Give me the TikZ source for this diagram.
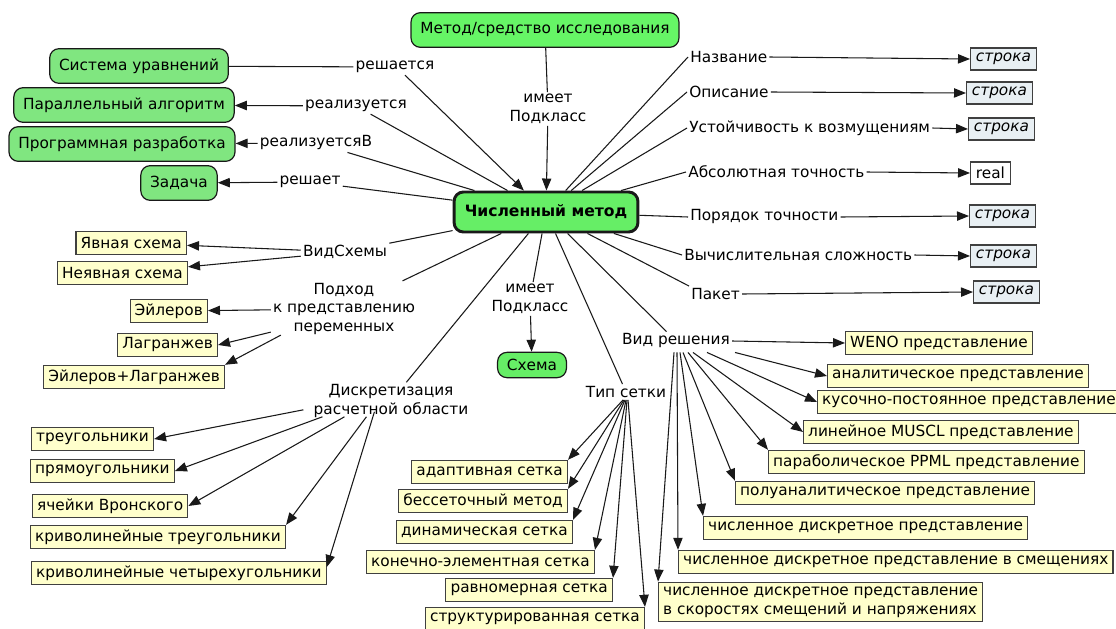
\documentclass[tikz,border=0pt]{standalone}
\usepackage{fontspec}
\setmainfont{DejaVu Sans}
\usetikzlibrary{arrows.meta,calc}
\definecolor{grTop}{RGB}{102,245,102}
\definecolor{grL}{RGB}{128,230,128}
\definecolor{grC}{RGB}{102,238,102}
\definecolor{yel}{RGB}{255,255,204}
\definecolor{strk}{RGB}{232,239,243}
\definecolor{ln}{RGB}{25,25,25}
\tikzset{
  lab/.style={inner sep=1.5pt, align=center},
  grbox/.style={draw=ln, fill=grL, rounded corners=7pt, line width=0.9pt, inner xsep=7pt, minimum height=26pt},
  cmbox/.style={draw=ln, fill=grC, rounded corners=7pt, line width=2.2pt, inner xsep=8pt, minimum height=30pt, font=\fontsize{11.7}{14}\selectfont\bfseries},
  ybox/.style={draw=black!75, fill=yel, line width=0.8pt, inner xsep=3.5pt, inner ysep=2pt, minimum height=17.5pt, align=left},
  sbox/.style={draw=black!75, fill=strk, line width=0.8pt, inner xsep=4pt, inner ysep=2pt, minimum height=16.5pt, font=\fontsize{11.5}{14}\selectfont\itshape},
  conn/.style={line width=0.8pt, draw=ln},
  arr/.style={conn, -{Triangle[length=9pt,width=7pt]}}
}
\begin{document}
\begin{tikzpicture}[x=0.75pt,y=-0.75pt, font=\fontsize{11.5}{14}\selectfont]
\useasboundingbox (0,0) rectangle (1116,628);

% green boxes
\node[grbox, fill=grTop] (mt) at (545,30) {Метод/средство исследования};
\node[grbox] (su) at (139,66) {Система уравнений};
\node[grbox] (pa) at (124,105) {Параллельный алгоритм};
\node[grbox] (pr) at (122,144) {Программная разработка};
\node[grbox] (zd) at (179,183) {Задача};
\node[cmbox] (cm) at (546,212) {Численный метод};
\node[grbox, fill=grC, minimum height=19pt] (sx) at (532,365) {Схема};

% top-left labels
\node[lab] (lres) at (395,67) {решается};
\node[lab] (lrea) at (356,106) {реализуется};
\node[lab] (lreb) at (316,143) {реализуетсяВ};
\node[lab] (lrsh) at (310,182) {решает};
\node[lab] (lim1) at (548,109) {имеет\\Подкласс};

\draw[conn] (su) -- (lres);
\draw[arr] ($(lres.south)+(10,0)$) -- (cm);
\draw[conn] (cm) -- (lrea);
\draw[arr] (lrea) -- (pa);
\draw[conn] (cm) -- (lreb);
\draw[arr] (lreb) -- (pr);
\draw[conn] (cm) -- (lrsh);
\draw[arr] (lrsh) -- (zd);
\draw[conn] (mt) -- (lim1);
\draw[arr] (lim1) -- (cm);

% right labels
\node[lab, anchor=west] (nz) at (688,57) {Название};
\node[lab, anchor=west] (op) at (687,92) {Описание};
\node[lab, anchor=west] (us) at (687,128) {Устойчивость к возмущениям};
\node[lab, anchor=west] (ab) at (686,172) {Абсолютная точность};
\node[lab, anchor=west] (po) at (688,217) {Порядок точности};
\node[lab, anchor=west] (vs) at (682,255) {Вычислительная сложность};
\node[lab, anchor=west] (pk) at (689,294) {Пакет};

\node[sbox, anchor=west] (s1) at (970,59) {строка};
\node[sbox, anchor=west] (s2) at (966,93) {строка};
\node[sbox, anchor=west] (s3) at (968,129) {строка};
\node[sbox, anchor=west, fill=white, font=\fontsize{11.5}{14}\selectfont] (s4) at (970,173) {real};
\node[sbox, anchor=west] (s5) at (969,216) {строка};
\node[sbox, anchor=west] (s6) at (970,256) {строка};
\node[sbox, anchor=west] (s7) at (973,292) {строка};

\draw[conn] (cm) -- (nz.west);
\draw[conn] (cm) -- (op.west);
\draw[conn] (cm) -- (us.west);
\draw[conn] (cm) -- (ab.west);
\draw[conn] (cm) -- (po.west);
\draw[conn] (cm) -- (vs.west);
\draw[conn] (cm) -- (pk.north west);
\draw[arr] (nz.east) -- (s1.west);
\draw[arr] (op.east) -- (s2.west);
\draw[arr] (us.east) -- (s3.west);
\draw[arr] (ab.east) -- (s4.west);
\draw[arr] (po.east) -- (s5.west);
\draw[arr] (vs.east) -- (s6.west);
\draw[arr] (pk.east) -- (s7.west);

% left middle
\node[lab] (vsh) at (345,252) {ВидСхемы};
\node[lab] (pod) at (344,309) {Подход\\к представлению\\переменных};
\node[lab] (dr) at (391,401) {Дискретизация\\расчетной области};
\node[lab] (lim2) at (530,299) {имеет\\Подкласс};
\node[lab] (ts) at (626,392) {Тип сетки};
\node[lab] (vr) at (676,341) {Вид решения};

\draw[conn] (cm) -- (vsh);
\draw[conn] (cm) -- (pod);
\draw[conn] (cm) -- (dr);
\draw[conn] (cm) -- (lim2);
\draw[conn] (cm) -- (ts);
\draw[conn] (cm) -- (vr);
\draw[arr] (lim2) -- (sx);

\node[ybox, anchor=east] (ya) at (187,243) {Явная схема};
\node[ybox, anchor=east] (ny) at (188,273) {Неявная схема};
\draw[arr] (vsh) -- (ya);
\draw[arr] (vsh) -- (ny);

\node[ybox, anchor=east] (eu) at (208,311) {Эйлеров};
\node[ybox, anchor=east] (lg) at (218,345) {Лагранжев};
\node[ybox, anchor=east] (el) at (225,377) {Эйлеров+Лагранжев};
\draw[arr] (pod) -- (eu);
\draw[arr] ($(pod.south west)+(0,-5)$) -- (lg.east);
\draw[arr] ($(pod.south west)+(10,-2)$) -- (el.north east);

\node[ybox, anchor=west] (tr) at (31,439) {треугольники};
\node[ybox, anchor=west] (pm) at (30,471) {прямоугольники};
\node[ybox, anchor=west] (yv) at (32,506) {ячейки Вронского};
\node[ybox, anchor=west] (kt) at (30,537) {криволинейные треугольники};
\node[ybox, anchor=west] (kc) at (31,573) {криволинейные четырехугольники};
\draw[arr] ($(dr.south west)+(-8,-10)$) -- (tr.east);
\draw[arr] ($(dr.south west)+(11,-3)$) -- (pm.east);
\draw[arr] ($(dr.south west)+(33,-3)$) -- (yv.east);
\draw[arr] ($(dr.south west)+(55,-3)$) -- (kt.north east);
\draw[arr] ($(dr.south west)+(63,-8)$) -- ($(kc.east)+(0,-6)$);

% mesh types
\node[ybox, anchor=east] (ad) at (568,472) {адаптивная сетка};
\node[ybox, anchor=east] (bs) at (568,501) {бессеточный метод};
\node[ybox, anchor=east] (dn) at (573,532) {динамическая сетка};
\node[ybox, anchor=east] (kn) at (595,562) {конечно-элементная сетка};
\node[ybox, anchor=east] (rv) at (613,590) {равномерная сетка};
\node[ybox, anchor=east] (st) at (645,619) {структурированная сетка};
\draw[arr] ($(ts.south)+(-3,0)$) -- (ad.north east);
\draw[arr] ($(ts.south)+(-2,0)$) -- (bs.north east);
\draw[arr] ($(ts.south)+(-1,0)$) -- (dn.north east);
\draw[arr] ($(ts.south)+(0,0)$) -- (kn.north east);
\draw[arr] ($(ts.south)+(1,0)$) -- (rv.north east);
\draw[arr] ($(ts.south)+(2,0)$) -- (st.north east);

% solution kinds
\node[ybox, anchor=west] (b1) at (845,343) {WENO представление};
\node[ybox, anchor=west] (b2) at (827,376) {аналитическое представление};
\node[ybox, anchor=west] (b3) at (817,402) {кусочно-постоянное представление};
\node[ybox, anchor=west] (b4) at (803,432) {линейное MUSCL представление};
\node[ybox, anchor=west] (b5) at (768,462) {параболическое PPML представление};
\node[ybox, anchor=west] (b6) at (735,493) {полуаналитическое представление};
\node[ybox, anchor=west] (b7) at (703,528) {численное дискретное представление};
\node[ybox, anchor=west] (b8) at (678,562) {численное дискретное представление в смещениях};
\node[ybox, anchor=west, inner ysep=3.5pt] (b9) at (658,602) {численное дискретное представление\\в скоростях смещений и напряжениях};
\draw[arr] (vr.east) -- (b1.west);
\draw[arr] ($(vr.south)+(59,2)$) -- (b2.west);
\draw[arr] ($(vr.south)+(31,2)$) -- (b3.west);
\draw[arr] ($(vr.south)+(17,2)$) -- (b4.west);
\draw[arr] ($(vr.south)+(12,2)$) -- (b5.north west);
\draw[arr] ($(vr.south)+(7,2)$) -- (b6.north west);
\draw[arr] ($(vr.south)+(4,2)$) -- (b7.north west);
\draw[arr] ($(vr.south)+(1,2)$) -- (b8.north west);
\draw[arr] ($(vr.south)+(-2,2)$) -- (b9.north west);
\end{tikzpicture}
\end{document}
